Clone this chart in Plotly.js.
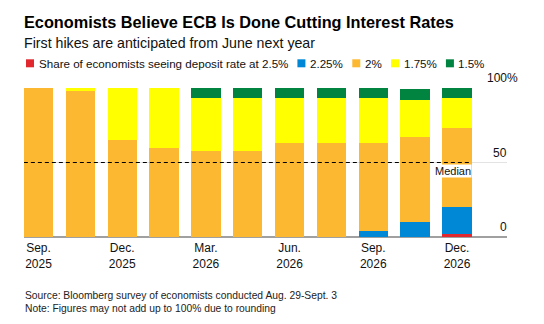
<!DOCTYPE html>
<html>
<head>
<meta charset="utf-8">
<script src="https://cdn.plot.ly/plotly-3.0.1.min.js"></script>
<style>html,body{margin:0;padding:0;background:#fff;}#chart{width:544px;height:324px;}</style>
</head>
<body>
<div id="chart"></div>
<script>
// ---- data ----
var meetings = ['Sep 2025','Oct 2025','Dec 2025','Feb 2026','Mar 2026','Apr 2026','Jun 2026','Jul 2026','Sep 2026','Oct 2026','Dec 2026'];
var rate250 = [0,0,0,0,0,0,0,0,0,0,2];
var rate225 = [0,0,0,0,0,0,0,0,4,10,18];
var rate200 = [100,98,65,60,58,58,63,63,59,57,53];
var rate175 = [0,2,35,40,35,35,30,30,30,25,20];
var rate150 = [0,0,0,0,7,7,7,7,7,7,7];
var seriesNames = ['Share of economists seeing deposit rate at 2.5%','2.25%','2%','1.75%','1.5%'];
var seriesColors = ['#e0282e','#0088d6','#fcb830','#ffff00','#00843f'];
var tickMeetings = ['Sep 2025','Dec 2025','Mar 2026','Jun 2026','Sep 2026','Dec 2026'];
var tickLabels = ['Sep.<br>2025','Dec.<br>2025','Mar.<br>2026','Jun.<br>2026','Sep.<br>2026','Dec.<br>2026'];
var yTickVals = [0,50,100];
var yTickText = ['0','50','100%'];
var medianValue = 50;

// ---- geometry ----
var W=544,H=324,L=24,R=37,T=88,B=87;
var PW=W-L-R, PH=H-T-B;
function pxX(px){return (px-L)/PW;}
function pxY(py){return (H-B-py)/PH;}
var FONT='Arial, "Liberation Sans", sans-serif';

var xs = meetings.map(function(_,i){return i;});
var allSeries = [rate250, rate225, rate200, rate175, rate150];
var traces = allSeries.map(function(vals,k){
  return {type:'bar', x:xs, y:vals, name:seriesNames[k], width:0.7,
    marker:{color:seriesColors[k], line:{width:0}}, hoverinfo:'skip', showlegend:false};
});

var tickVals = tickMeetings.map(function(m){return meetings.indexOf(m);});

var annotations = [];
var shapes = [];

// subtitle
annotations.push({xref:'paper',yref:'paper',x:pxX(24),y:pxY(42.5),xanchor:'left',yanchor:'middle',xshift:-2,
  text:'First hikes are anticipated from June next year',showarrow:false,
  font:{family:FONT,size:14.2,color:'#111'}});

// legend (custom, measured)
var LEGSIZE=11.6;
var cv=document.createElement('canvas').getContext('2d');
cv.font=LEGSIZE+'px Arial, "Liberation Sans"';
var lx=26;
seriesNames.forEach(function(n,k){
  shapes.push({type:'rect',xref:'paper',yref:'paper',x0:pxX(lx),x1:pxX(lx+8),y0:pxY(67.3),y1:pxY(59.3),
    fillcolor:seriesColors[k],line:{width:0}});
  annotations.push({xref:'paper',yref:'paper',x:pxX(lx+11.5),y:pxY(63.5),xanchor:'left',yanchor:'middle',
    text:n,showarrow:false,font:{family:FONT,size:LEGSIZE,color:'#111'},xshift:-1});
  var w=cv.measureText(n).width;
  lx = lx+11.5+w+10.5;
});

// y tick labels above gridlines on right (percent sign hangs past the edge)
var cv2=document.createElement('canvas').getContext('2d');
cv2.font='12px Arial, "Liberation Sans"';
yTickVals.forEach(function(v,k){
  var t=yTickText[k];
  var hang = t.indexOf('%')>=0 ? cv2.measureText('%').width : 0;
  annotations.push({xref:'paper',yref:'y',x:1,y:v,xanchor:'right',yanchor:'bottom',yshift:2,xshift:hang+1,
    text:t,showarrow:false,font:{family:FONT,size:12,color:'#111'},borderpad:0});
});

// median line and label
var lastIdx = xs.length-1;
shapes.push({type:'line',xref:'x',yref:'y',x0:-0.35,x1:lastIdx+0.35,y0:medianValue,y1:medianValue,
  line:{color:'#000',width:1.2,dash:'4px,3px'},layer:'above'});
annotations.push({xref:'x',yref:'y',x:lastIdx+0.35,y:medianValue,xanchor:'right',yanchor:'top',yshift:-1,
  text:'Median',showarrow:false,bgcolor:'#fff',borderpad:0,font:{family:FONT,size:11,color:'#111'}});

// footer
annotations.push({xref:'paper',yref:'paper',x:pxX(24),y:pxY(295.5),xanchor:'left',yanchor:'middle',xshift:-1,
  text:'Source: Bloomberg survey of economists conducted Aug. 29-Sept. 3',showarrow:false,
  font:{family:FONT,size:10.3,color:'#222'}});
annotations.push({xref:'paper',yref:'paper',x:pxX(24),y:pxY(308),xanchor:'left',yanchor:'middle',xshift:-1,
  text:'Note: Figures may not add up to 100% due to rounding',showarrow:false,
  font:{family:FONT,size:10.3,color:'#222'}});

var layout = {
  width:W, height:H, margin:{l:L,r:R,t:T,b:B,pad:0},
  paper_bgcolor:'#fff', plot_bgcolor:'#fff',
  barmode:'stack', bargap:0.3,
  showlegend:false,
  title:{text:'<b>Economists Believe ECB Is Done Cutting Interest Rates</b>', x:0, xanchor:'left',
    xref:'paper', y:1-22.5/H, yanchor:'middle', yref:'container',
    font:{family:FONT,size:16.3,color:'#000'}},
  xaxis:{range:[-0.3465, 11.195], tickvals:tickVals, ticktext:tickLabels, ticks:'', showgrid:false,
    zeroline:false, showline:false, fixedrange:true, ticklabelstandoff:2,
    tickfont:{family:FONT,size:12,color:'#111'}},
  yaxis:{range:[0,100], tickvals:yTickVals, showticklabels:false, ticks:'', showgrid:true,
    gridcolor:'#e3e3e3', gridwidth:1, zeroline:true, zerolinecolor:'#a0a0a0', zerolinewidth:1.5,
    showline:false, fixedrange:true},
  shapes:shapes, annotations:annotations
};
Plotly.newPlot('chart', traces, layout, {displayModeBar:false, staticPlot:true});
</script>
</body>
</html>
